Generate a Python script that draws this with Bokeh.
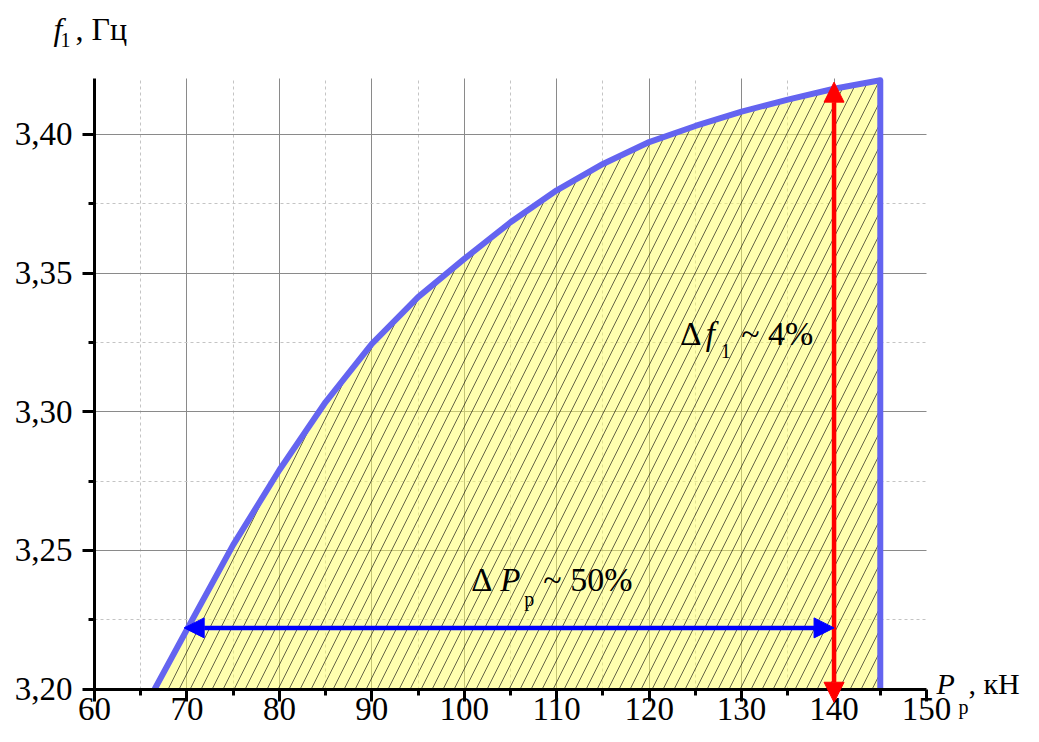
from bokeh.plotting import figure
from bokeh.models import (Range1d, FixedTicker, CustomJSTickFormatter, Arrow,
                          NormalHead, Label)
from bokeh.embed import file_html
from bokeh.resources import INLINE

# ---------------- data ----------------
P_kN = [66.5, 70, 75, 80, 85, 90, 95, 100, 105, 110, 115, 120, 125, 130, 135, 140, 145]
f1_Hz = [3.2000, 3.2215, 3.2520, 3.2790, 3.3035, 3.3245, 3.3413, 3.3551, 3.3683,
         3.3798, 3.3893, 3.3972, 3.4030, 3.4082, 3.4125, 3.4164, 3.4195]

x_ticks = [60, 70, 80, 90, 100, 110, 120, 130, 140, 150]
x_tick_labels = ["60", "70", "80", "90", "100", "110", "120", "130", "140", "150"]
x_minor = [65, 75, 85, 95, 105, 115, 125, 135, 145]
y_ticks = [3.20, 3.25, 3.30, 3.35, 3.40]
y_tick_labels = ["3,20", "3,25", "3,30", "3,35", "3,40"]
y_minor = [3.225, 3.275, 3.325, 3.375]
x_lim = [60, 150]
y_lim = [3.20, 3.42]

# arrows (delta f at P=140, delta P at f=3.222)
df_arrow_P = 140
df_arrow_f = [3.1953, 3.4188]
dP_arrow_P = [69.7, 140]
dP_arrow_f = 3.2221

SERIF = "Liberation Serif"

# ---------------- layout (pixels) ----------------
W, H = 1023, 726
FL, FR, FT, FB = 94, 926, 78.3, 688.7      # data area inside the canvas
kx = (FR - FL) / (x_lim[1] - x_lim[0])
ky = (FB - FT) / (y_lim[1] - y_lim[0])
xr = Range1d(x_lim[0] - FL / kx, x_lim[1] + (W - FR) / kx)
yr = Range1d(y_lim[0] - (H - FB) / ky, y_lim[1] + FT / ky)

p = figure(width=W, height=H, x_range=xr, y_range=yr,
           output_backend="svg", toolbar_location=None,
           min_border=0, min_border_left=0, min_border_right=0,
           min_border_top=0, min_border_bottom=0)
p.outline_line_color = None
p.background_fill_color = "white"

# axes drawn at the data-area edges
p.xaxis.fixed_location = y_lim[0]
p.yaxis.fixed_location = x_lim[0]
p.xaxis.bounds = tuple(x_lim)
p.yaxis.bounds = tuple(y_lim)
p.xaxis.ticker = FixedTicker(ticks=x_ticks, minor_ticks=x_minor)
p.yaxis.ticker = FixedTicker(ticks=y_ticks, minor_ticks=y_minor)
p.xaxis.major_label_overrides = dict(zip(x_ticks, x_tick_labels))
p.yaxis.formatter = CustomJSTickFormatter(code="return tick.toFixed(2).replace('.', ',');")
p.yaxis.major_label_overrides = dict(zip(y_ticks, y_tick_labels))
for ax in (p.xaxis, p.yaxis):
    ax.axis_line_width = 3
    ax.axis_line_color = "black"
    ax.major_tick_line_width = 3
    ax.minor_tick_line_width = 3
    ax.major_tick_line_color = "black"
    ax.minor_tick_line_color = "black"
    ax.major_tick_in = 0
    ax.major_tick_out = 12
    ax.minor_tick_in = 0
    ax.minor_tick_out = 6
    ax.major_label_text_font = SERIF
    ax.major_label_text_font_size = "33px"
    ax.major_label_text_color = "black"
p.yaxis.major_label_standoff = 10
p.xaxis.major_label_standoff = -3

# grids
p.xgrid.ticker = FixedTicker(ticks=x_ticks[1:-1], minor_ticks=x_minor)
p.ygrid.ticker = FixedTicker(ticks=y_ticks[1:], minor_ticks=y_minor)
p.xgrid.bounds = tuple(x_lim)
p.ygrid.bounds = tuple(y_lim)
p.xgrid.cross_bounds = tuple(y_lim)
p.ygrid.cross_bounds = tuple(x_lim)
for g in (p.xgrid, p.ygrid):
    g.grid_line_color = "#8a8a8a"
    g.grid_line_width = 1
    g.minor_grid_line_color = "#c4c4c4"
    g.minor_grid_line_dash = "3 3"
    g.minor_grid_line_width = 1

# hatched region
area_x = P_kN + [P_kN[-1]]
area_y = f1_Hz + [f1_Hz[0]]
p.patch(area_x, area_y, fill_color="#ffff60", fill_alpha=0.5, line_color=None,
        hatch_pattern="/", hatch_color="black", hatch_alpha=0.6,
        hatch_weight=1, hatch_scale=22)
p.line(area_x, area_y, line_color="#6464f0", line_width=6, line_join="round")

# arrows
p.add_layout(Arrow(x_start=df_arrow_P, y_start=df_arrow_f[0], x_end=df_arrow_P, y_end=df_arrow_f[1],
                   line_color="#ff0000", line_width=4.5,
                   start=NormalHead(size=20, fill_color="#ff0000", line_color="#ff0000", line_width=1),
                   end=NormalHead(size=20, fill_color="#ff0000", line_color="#ff0000", line_width=1)))
p.add_layout(Arrow(x_start=dP_arrow_P[0], y_start=dP_arrow_f, x_end=dP_arrow_P[1], y_end=dP_arrow_f,
                   line_color="#0000ff", line_width=4.5,
                   start=NormalHead(size=20, fill_color="#0000ff", line_color="#0000ff", line_width=1),
                   end=NormalHead(size=20, fill_color="#0000ff", line_color="#0000ff", line_width=1)))

BL = 0.41  # baseline calibration (fraction of font size)


def add_text(x, y, pieces):
    for txt, dx, dy, size, style in pieces:
        p.add_layout(Label(x=x, y=y, x_offset=dx, y_offset=dy + BL * size, text=txt,
                           text_font=SERIF, text_font_size=f"{size}px",
                           text_font_style=style, text_color="black",
                           text_align="left", text_baseline="alphabetic"))


# axis titles
add_text(x_lim[0], y_lim[1], [("f", -41, 37, 32, "italic"),
                              ("1", -34, 30.5, 20, "normal"),
                              (", Гц", -19, 37, 32, "normal")])
add_text(x_lim[1], y_lim[0], [("P", 10, -7, 30, "italic"),
                              ("р", 32, -26, 20, "normal"),
                              (", кН", 42, -7, 30, "normal")])

# annotations
add_text(123.35, 3.3233, [("Δ", 0, 0, 33, "normal"),
                          ("f", 25.5, 0, 33, "italic"),
                          ("1", 40.5, -12.6, 20, "normal"),
                          ("~ 4%", 61, 0, 34, "normal")])
add_text(100.76, 3.2346, [("Δ", 0, 0, 33, "normal"),
                          ("P", 29, 0, 33, "italic"),
                          ("р", 53, -14, 20, "normal"),
                          ("~ 50%", 72, 0, 34, "normal")])

open("out.html", "w").write(file_html(p, INLINE))
